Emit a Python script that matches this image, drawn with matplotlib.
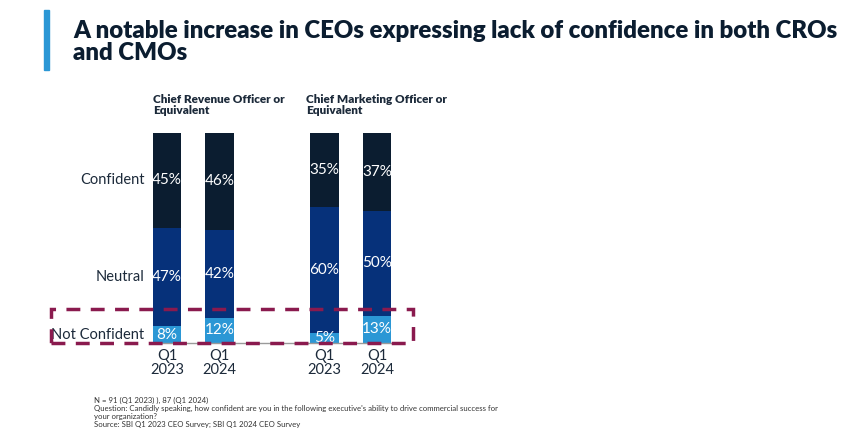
import matplotlib.pyplot as plt
import matplotlib.patches as patches
import numpy as np

plt.rcParams['font.family'] = ['Lato', 'DejaVu Sans']

# data
periods = ["Q1\n2023", "Q1\n2024", "Q1\n2023", "Q1\n2024"]
not_confident = [8, 12, 5, 13]
neutral = [47, 42, 60, 50]
confident = [45, 46, 35, 37]
groups = ["Chief Revenue Officer or\nEquivalent", "Chief Marketing Officer or\nEquivalent"]
row_labels = ["Confident", "Neutral", "Not Confident"]

W, H = 854, 442
fig = plt.figure(figsize=(W / 100, H / 100), dpi=100)

def px(x, y):
    return x / W, 1 - y / H

c_dark = "#0b1d30"
c_mid = "#06317a"
c_light = "#2b97d5"
c_text = "#1c2a3a"

# axes: left=150px, right=400px, bottom=343px, top=133px
ax = fig.add_axes([150 / W, (H - 343) / H, 250 / W, 210 / H])
xpos = np.array([0, 1, 3, 4])
bw = 0.55
nc = np.array(not_confident)
ne = np.array(neutral)
co = np.array(confident)
ax.bar(xpos, nc, bw, color=c_light, zorder=2)
ax.bar(xpos, ne, bw, bottom=nc, color=c_mid, zorder=2)
ax.bar(xpos, co, bw, bottom=nc + ne, color=c_dark, zorder=2)
ax.set_xlim(-17 / 52.5, 233 / 52.5)
ax.set_ylim(0, 100)

for x, a, b, c in zip(xpos, nc, ne, co):
    ax.text(x, a / 2, f"{a}%", ha="center", va="center", color="white", fontsize=11)
    ax.text(x, a + b / 2, f"{b}%", ha="center", va="center", color="white", fontsize=11)
    ax.text(x, a + b + c / 2, f"{c}%", ha="center", va="center", color="white", fontsize=11)

# row labels aligned with first bar's segments
row_y = [nc[0] + ne[0] + co[0] / 2, nc[0] + ne[0] / 2, nc[0] / 2]
for lab, y in zip(row_labels, row_y):
    ax.text(-0.43, y, lab, ha="right", va="center", color=c_text, fontsize=10.5)

for s in ["top", "right", "left"]:
    ax.spines[s].set_visible(False)
ax.spines["bottom"].set_color("#9a9a9a")
ax.spines["bottom"].set_linewidth(1)
ax.set_yticks([])
ax.set_xticks(xpos)
ax.set_xticklabels(periods, fontsize=10.5, color=c_text, linespacing=1.0)
ax.tick_params(axis="x", length=0, pad=4)

# group headers
for x0, g in zip([153, 306], groups):
    fig.text(*px(x0, 94), g, ha="left", va="top", fontsize=8.5, fontweight="heavy",
             color=c_text, linespacing=1.05)

# title and accent bar
fig.patches.append(patches.Rectangle(px(44, 70), 5 / W, 60 / H, transform=fig.transFigure,
                                     color=c_light, zorder=3))
fig.text(*px(73, 20), "A notable increase in CEOs expressing lack of confidence in both CROs\nand CMOs",
         ha="left", va="top", fontsize=17.3, fontweight="heavy", color="#0b1d30", linespacing=0.98)

# dashed highlight box
fig.patches.append(patches.Rectangle(px(51, 343), 362 / W, 34 / H, transform=fig.transFigure,
                                     fill=False, edgecolor="#8a1a4e", linewidth=2.5,
                                     linestyle=(0, (4, 3)), zorder=5))

# footnotes
notes = ("N = 91 (Q1 2023) ), 87 (Q1 2024)\n"
         "Question: Candidly speaking, how confident are you in the following executive's ability to drive commercial success for\n"
         "your organization?\n"
         "Source: SBI Q1 2023 CEO Survey; SBI Q1 2024 CEO Survey")
fig.text(*px(94, 397), notes, ha="left", va="top", fontsize=5.6, color="#333333", linespacing=1.15)

fig.savefig("out.png", dpi=100)
